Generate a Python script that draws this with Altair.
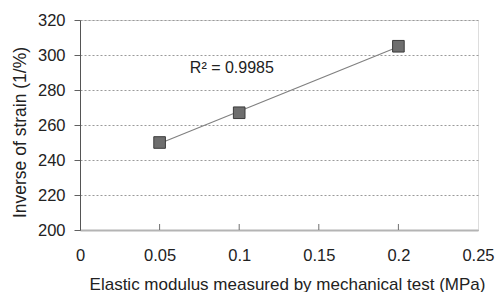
import altair as alt
import pandas as pd

modulus = [0.05, 0.1, 0.2]
inv_strain = [250, 267, 305]
x_ticks = [0, 0.05, 0.1, 0.15, 0.2, 0.25]
y_ticks = [200, 220, 240, 260, 280, 300, 320]
r2_label = "R² = 0.9985"

df = pd.DataFrame({"x": modulus, "y": inv_strain})
FONT = "Liberation Sans"

xscale = alt.Scale(domain=[0, 0.25], nice=False, zero=False)
yscale = alt.Scale(domain=[200, 320], nice=False, zero=False)

xaxis = alt.Axis(
    values=x_ticks, format=".2~f", title="Elastic modulus measured by mechanical test (MPa)",
    grid=False, ticks=False, labelPadding=17, labelFontSize=16.5, labelFont=FONT,
    labelColor="#222", domainColor="#b4b4b4", domainWidth=2,
    titleFont=FONT, titleFontSize=17, titleFontWeight="normal", titleColor="#222",
    titleBaseline="alphabetic", titleY=59, titleX=207, titleAlign="center",
    labelFlush=False, labelOverlap=False)
yaxis = alt.Axis(
    values=y_ticks, title="Inverse of strain (1/%)",
    grid=True, gridDash=[2, 2], gridColor="#9a9a9a", gridWidth=1,
    tickSize=6, tickColor="#606060", labelPadding=9, labelFontSize=16.5,
    labelFont=FONT, labelColor="#222", domainColor="#555555",
    titleFont=FONT, titleFontSize=17.5, titleFontWeight="normal", titleColor="#222",
    titleBaseline="alphabetic", titleX=-55, titleY=112, titleAngle=-90,
    titleAlign="center", labelFlush=False, labelOverlap=False)

xenc = alt.X("x:Q", scale=xscale, axis=xaxis)
yenc = alt.Y("y:Q", scale=yscale, axis=yaxis)

base = alt.Chart(df)

trend = base.transform_regression("x", "y", extent=[0.05, 0.2]).mark_line(
    color="#808080", strokeWidth=1.2).encode(x=xenc, y=yenc)

pts = base.mark_point(shape="square", filled=True, size=135, color="#6e6e6e",
                      stroke="#3c3c3c", strokeWidth=1, opacity=1).encode(
    x=xenc, y=yenc)

xt = alt.Chart(pd.DataFrame({"x": x_ticks[1:-1]})).mark_rule(
    color="#707070", strokeWidth=1).encode(
    x=xenc, y=alt.value(210), y2=alt.value(204))

ann = alt.Chart(pd.DataFrame({"x": [0.069], "y": [289.7], "t": [r2_label]})).mark_text(
    align="left", baseline="alphabetic", font=FONT, fontSize=16, color="#222").encode(
    x=xenc, y=yenc, text="t:N")

chart = alt.layer(trend, xt, pts, ann).properties(
    width=398, height=210,
    autosize=alt.AutoSizeParams(type="none"),
    padding={"left": 72, "top": 12, "right": 17, "bottom": 62},
).configure_view(stroke="#7a7a7a", strokeWidth=1.5).configure(background="white")

chart.save("out.html", embed_options={"renderer": "svg", "actions": False})
